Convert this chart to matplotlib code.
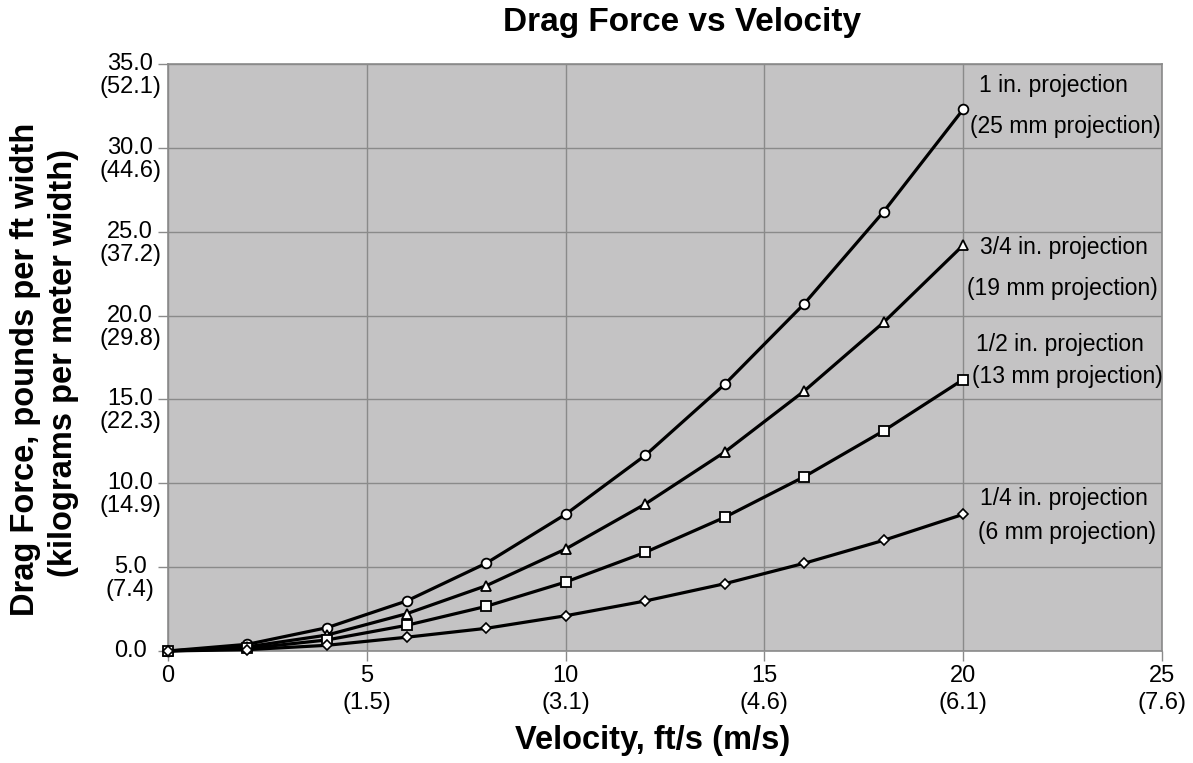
import matplotlib
matplotlib.use("Agg")
import matplotlib.pyplot as plt
import matplotlib.transforms as mtransforms

plt.rcParams['font.family'] = ['Liberation Sans', 'DejaVu Sans']

velocity = [0, 2, 4, 6, 8, 10, 12, 14, 16, 18, 20]
force_1in = [0, 0.40, 1.39, 2.98, 5.23, 8.15, 11.66, 15.9, 20.7, 26.2, 32.3]
force_3_4in = [0, 0.25, 0.95, 2.22, 3.89, 6.08, 8.76, 11.86, 15.5, 19.6, 24.2]
force_1_2in = [0, 0.15, 0.66, 1.53, 2.66, 4.11, 5.88, 7.97, 10.39, 13.13, 16.19]
force_1_4in = [0, 0.08, 0.34, 0.82, 1.35, 2.10, 2.98, 4.01, 5.23, 6.60, 8.15]

series_labels = [
    ("1 in. projection", "(25 mm projection)"),
    ("3/4 in. projection", "(19 mm projection)"),
    ("1/2 in. projection", "(13 mm projection)"),
    ("1/4 in. projection", "(6 mm projection)"),
]

x_ticks = [0, 5, 10, 15, 20, 25]
x_tick_labels = ["0", "5\n(1.5)", "10\n(3.1)", "15\n(4.6)", "20\n(6.1)", "25\n(7.6)"]
y_ticks = [0, 5, 10, 15, 20, 25, 30, 35]
y_tick_main = ["0.0", "5.0", "10.0", "15.0", "20.0", "25.0", "30.0", "35.0"]
y_tick_sub = ["", "(7.4)", "(14.9)", "(22.3)", "(29.8)", "(37.2)", "(44.6)", "(52.1)"]

fig = plt.figure(figsize=(11.93, 7.63), dpi=100)
ax = fig.add_axes([0.1408, 0.1468, 0.8332, 0.7692])
ax.set_facecolor('#c4c3c4')
ax.set_xlim(0, 25)
ax.set_ylim(0, 35)

grid_c = '#8a8a8a'
ax.set_xticks(x_ticks)
ax.set_yticks(y_ticks)
ax.grid(True, color=grid_c, linewidth=1.0)
ax.set_axisbelow(True)
for s in ax.spines.values():
    s.set_color(grid_c)
    s.set_linewidth(1.2)
ax.tick_params(axis='both', direction='out', color=grid_c, length=7, width=1.0)
ax.set_xticklabels(x_tick_labels, fontsize=17, linespacing=1.3)
ax.tick_params(axis='x', pad=3)
ax.set_yticklabels([])

# y tick labels: main value on tick line, metric value below
trans = mtransforms.blended_transform_factory(ax.transAxes, ax.transData)
off = mtransforms.offset_copy(trans, fig=fig, x=0, y=-23, units='dots')
for v, m, s in zip(y_ticks, y_tick_main, y_tick_sub):
    ax.text(-0.038, v, m, transform=trans, ha='center', va='center', fontsize=17)
    if s:
        ax.text(-0.038, v, s, transform=off, ha='center', va='center', fontsize=17)

lw = 2.3
ax.plot(velocity, force_1in, color='black', lw=lw, marker='o', ms=7,
        mfc='white', mec='black', mew=1.3, zorder=5, clip_on=False)
ax.plot(velocity, force_3_4in, color='black', lw=lw, marker='^', ms=7.5,
        mfc='white', mec='black', mew=1.3, zorder=5, clip_on=False)
ax.plot(velocity, force_1_2in, color='black', lw=lw, marker='s', ms=7,
        mfc='white', mec='black', mew=1.3, zorder=5, clip_on=False)
ax.plot(velocity, force_1_4in, color='black', lw=lw, marker='D', ms=5,
        mfc='white', mec='black', mew=1.2, zorder=5, clip_on=False)

# series annotations (label anchor positions in data units)
label_pos = [
    ((22.26, 33.7), (22.58, 31.25)),
    ((22.53, 24.09), (22.5, 21.59)),
    ((22.43, 18.25), (22.63, 16.34)),
    ((22.53, 9.12), (22.6, 7.04)),
]
for (l1, l2), ((x1, y1), (x2, y2)) in zip(series_labels, label_pos):
    ax.text(x1, y1, l1, ha='center', va='center', fontsize=16.5, clip_on=False)
    ax.text(x2, y2, l2, ha='center', va='center', fontsize=16.5, clip_on=False)

fig.text(0.572, 0.971, "Drag Force vs Velocity", ha='center', va='center',
         fontsize=24, fontweight='bold')
fig.text(0.547, 0.030, "Velocity, ft/s (m/s)", ha='center', va='center',
         fontsize=23.5, fontweight='bold')
fig.text(0.021, 0.516, "Drag Force, pounds per ft width", rotation=90,
         ha='center', va='center', fontsize=23.5, fontweight='bold')
fig.text(0.0536, 0.524, "(kilograms per meter width)", rotation=90,
         ha='center', va='center', fontsize=23.5, fontweight='bold')

fig.savefig("out.png", dpi=100)
